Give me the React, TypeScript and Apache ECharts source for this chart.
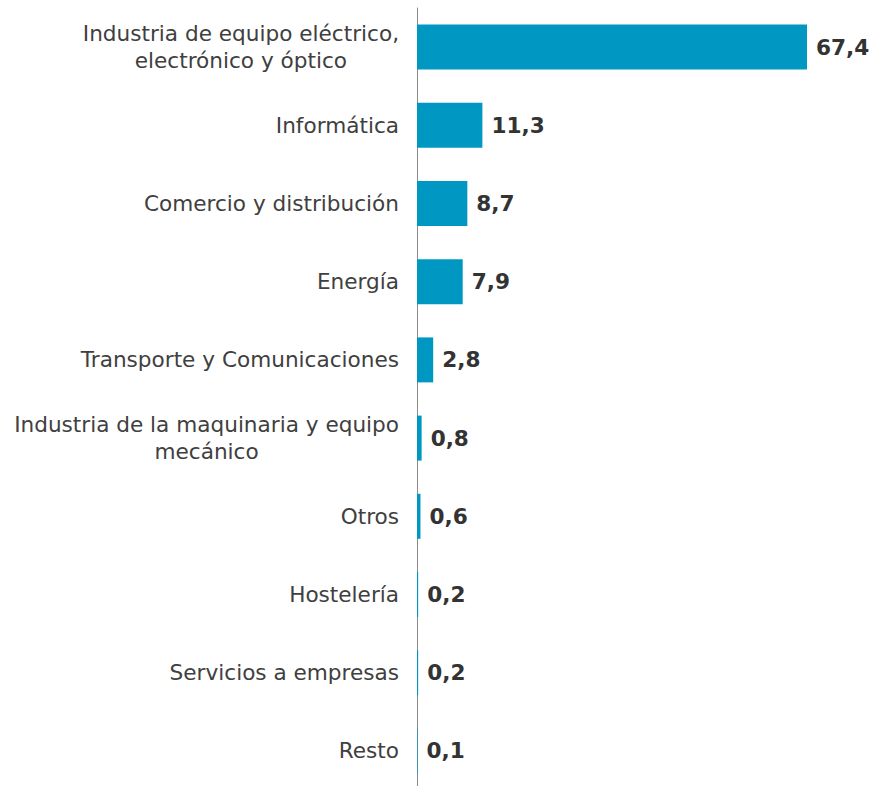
import React, { useEffect, useRef } from "react";
import * as echarts from "echarts";

const categories: string[] = [
  "Industria de equipo eléctrico,\nelectrónico y óptico",
  "Informática",
  "Comercio y distribución",
  "Energía",
  "Transporte y Comunicaciones",
  "Industria de la maquinaria y equipo\nmecánico",
  "Otros",
  "Hostelería",
  "Servicios a empresas",
  "Resto",
];

const values: number[] = [67.4, 11.3, 8.7, 7.9, 2.8, 0.8, 0.6, 0.2, 0.2, 0.1];

const FONT = "'DejaVu Sans', Verdana, sans-serif";

export default function App() {
  const ref = useRef<HTMLDivElement>(null);
  useEffect(() => {
    if (!ref.current) return;
    const chart = echarts.init(ref.current, null, { renderer: "svg" });
    chart.setOption({
      animation: false,
      grid: { left: 417, right: 64, top: 8, bottom: 0, containLabel: false },
      xAxis: {
        type: "value",
        min: 0,
        max: "dataMax",
        show: false,
      },
      yAxis: {
        type: "category",
        inverse: true,
        data: categories,
        axisLine: { show: true, lineStyle: { color: "#8c8c8c", width: 1 } },
        axisTick: { show: false },
        splitLine: { show: false },
        axisLabel: {
          margin: 18,
          align: "right",
          formatter: (v: string) =>
            v
              .split("\n")
              .map((l) => "{c|" + l + "}")
              .join("\n"),
          rich: {
            c: {
              align: "center",
              fontFamily: FONT,
              fontSize: 21.6,
              color: "#404040",
              lineHeight: 27,
            },
          },
        },
      },
      series: [
        {
          type: "bar",
          data: values,
          barWidth: 45,
          itemStyle: { color: "#0098C3" },
          label: {
            show: true,
            position: "right",
            distance: 9,
            fontFamily: FONT,
            fontSize: 21.6,
            fontWeight: "bold",
            color: "#333333",
            formatter: (p: any) => String(p.value.toFixed(1)).replace(".", ","),
          },
        },
      ],
    });
    return () => chart.dispose();
  }, []);
  return (
    <div
      style={{
        position: "absolute",
        left: 0,
        top: 0,
        width: 871,
        height: 786,
        overflow: "hidden",
      }}
    >
      <div ref={ref} style={{ width: 871, height: 790 }} />
    </div>
  );
}
